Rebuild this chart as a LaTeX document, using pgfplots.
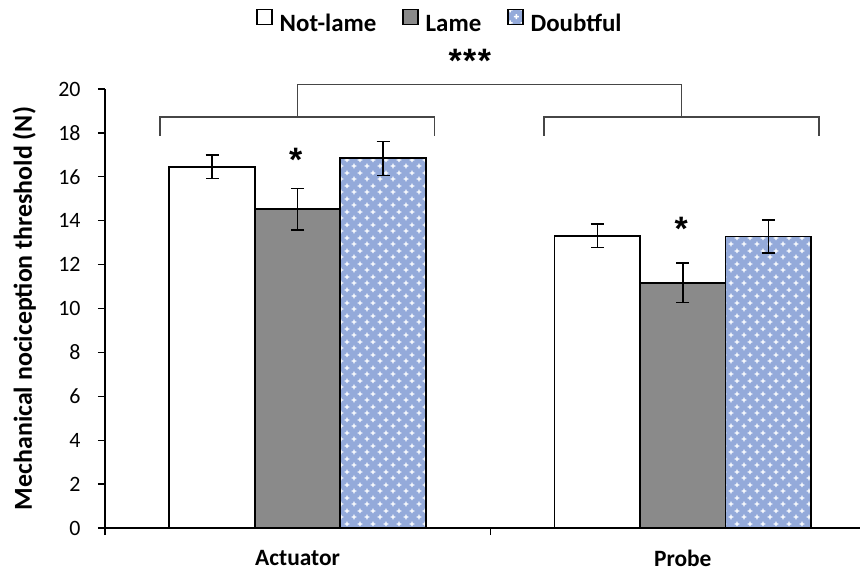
\documentclass[border=0pt]{standalone}
\usepackage{fontspec}
\setmainfont{Carlito}
\newfontfamily\starfamily{Liberation Sans}
\usepackage{pgfplots}
\pgfplotsset{compat=1.18}
\usetikzlibrary{patterns,calc}

\definecolor{barGray}{RGB}{138,138,138}
\definecolor{barBlue}{RGB}{148,170,218}
\definecolor{brk}{RGB}{70,70,70}

\pgfdeclarepatternformonly{whitecross}{\pgfpointorigin}{\pgfpoint{13bp}{13bp}}{\pgfpoint{13bp}{13bp}}{%
  \pgfpathrectangle{\pgfpoint{0.75bp}{2.55bp}}{\pgfpoint{5bp}{1.4bp}}%
  \pgfpathrectangle{\pgfpoint{2.55bp}{0.75bp}}{\pgfpoint{1.4bp}{5bp}}%
  \pgfpathrectangle{\pgfpoint{7.25bp}{9.05bp}}{\pgfpoint{5bp}{1.4bp}}%
  \pgfpathrectangle{\pgfpoint{9.05bp}{7.25bp}}{\pgfpoint{1.4bp}{5bp}}%
  \pgfusepath{fill}%
}

\newcommand{\tickfont}{\fontsize{22}{26}\selectfont}
\newcommand{\catfont}{\fontsize{23.5}{28}\selectfont}
\newcommand{\legfont}{\fontsize{25}{30}\selectfont}
\newcommand{\labfont}{\fontsize{26}{31}\selectfont}
\newcommand{\starfont}{\starfamily\bfseries\fontsize{34}{40}\selectfont}

\begin{document}
\begin{tikzpicture}
\begin{axis}[
  name=ax,
  scale only axis, width=755bp, height=439bp,
  xmin=-0.5, xmax=1.46, ymin=0, ymax=20,
  clip=false,
  axis x line*=bottom, axis y line*=left,
  axis line style={line width=1.3bp, -},
  ytick={0,2,...,20},
  xtick={-0.5,0.5},
  xticklabels={},
  extra x ticks={0,1},
  extra x tick labels={Actuator,Probe},
  extra x tick style={major tick length=0pt, tick label style={font=\bfseries\catfont, yshift=-19bp}},
  tick align=outside, major tick length=7bp,
  tick style={line width=1.3bp, black},
  /pgf/number format/assume math mode=true,
  tick label style={font=\tickfont},
  yticklabel style={xshift=-14bp},
  ylabel={\bfseries Mechanical nociception threshold (N)},
  ylabel style={font=\labfont, at={(axis description cs:-0.107,0.5)}, anchor=center},
  legend style={at={(axis description cs:0.4437,1.1526)}, anchor=center, draw=none,
    font=\bfseries\legfont, legend columns=3,
    /tikz/every odd column/.append style={column sep=5bp},
    /tikz/every even column/.append style={column sep=24bp}},
  legend image code/.code={\draw[#1, line width=1.3bp] (0bp,-0.5bp) rectangle (15bp,14.5bp);},
  error bars/y dir=both, error bars/y explicit,
  error bars/error bar style={line width=1.5bp, black},
  error bars/error mark options={rotate=90, mark size=6.5bp, line width=1.5bp, black},
]
\addplot[ybar, bar width=0.222, bar shift=0, fill=white, draw=black, line width=1.8bp]
  coordinates {(-0.222,16.46) +- (0,0.54) (0.778,13.32) +- (0,0.53)};
\addplot[ybar, bar width=0.222, bar shift=0, fill=barGray, draw=black, line width=1.8bp]
  coordinates {(0,14.52) +- (0,0.95) (1,11.17) +- (0,0.90)};
\addplot[ybar, bar width=0.222, bar shift=0, fill=barBlue, draw=black, line width=1.8bp,
  postaction={pattern=whitecross, pattern color=white}]
  coordinates {(0.222,16.84) +- (0,0.77) (1.222,13.28) +- (0,0.75)};
\legend{Not-lame,Lame,Doubtful}

% brackets
\draw[brk, line width=1.5bp] (axis cs:-0.357,17.86) -- (axis cs:-0.357,18.72) -- (axis cs:0.355,18.72) -- (axis cs:0.355,17.86);
\draw[brk, line width=1.5bp] (axis cs:0.6395,17.86) -- (axis cs:0.6395,18.72) -- (axis cs:1.3535,18.72) -- (axis cs:1.3535,17.86);
\draw[brk, line width=1.5bp] (axis cs:0,18.72) -- (axis cs:0,20.2) -- (axis cs:0.996,20.2) -- (axis cs:0.996,18.72);
\node[font=\starfont, anchor=base, inner sep=0pt] at (axis cs:-0.005,16.24) {*};
\node[font=\starfont, anchor=base, inner sep=0pt] at (axis cs:0.996,13.1) {*};
\node[font=\starfont, anchor=base, inner sep=0pt] at (axis cs:0.447,20.73) {*\kern1.5bp*\kern1.5bp*};
\end{axis}
\pgfresetboundingbox
\path[use as bounding box] ($(ax.south west)+(-105bp,-44bp)$) rectangle ($(ax.south west)+(756bp,528bp)$);
\end{tikzpicture}
\end{document}
